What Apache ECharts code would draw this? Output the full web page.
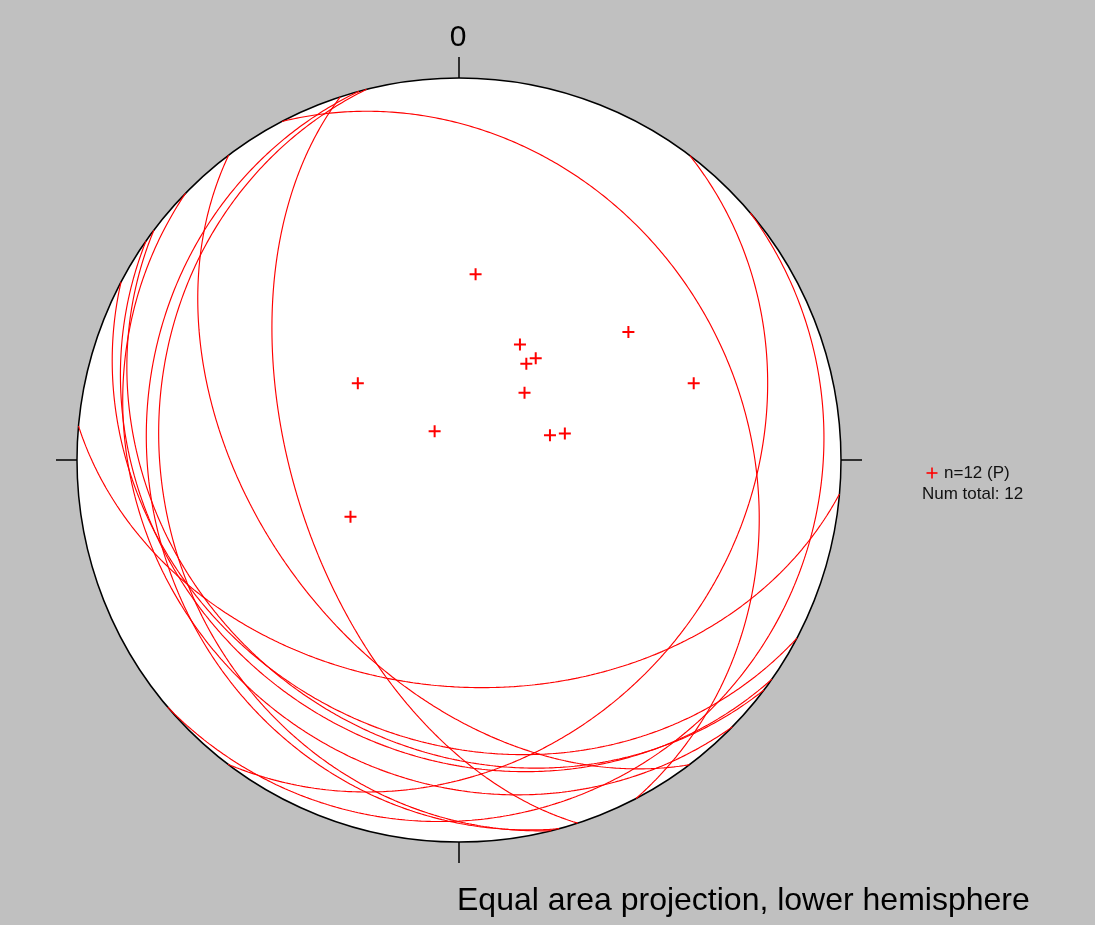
<!DOCTYPE html>
<html>
<head>
<meta charset="utf-8">
<script src="https://cdn.jsdelivr.net/npm/echarts@6/dist/echarts.min.js"></script>
<style>
html,body{margin:0;padding:0;background:#c0c0c0;}
#chart{width:1095px;height:925px;}
</style>
</head>
<body>
<div id="chart"></div>
<script>
// Poles to planes (trend, plunge in degrees)
const poleTrend  = [5.1, 27.8, 35.0, 37.0, 52.9, 307.2, 71.9, 44.3, 319.7, 74.8, 76.0, 242.4];
const polePlunge = [49.6, 62.0, 64.9, 62.7, 43.7, 62.8, 35.6, 70.0, 82.0, 69.9, 66.7, 63.8];
const northLabel = '0';
const legendLabel = 'n=12 (P)';
const totalLabel = 'Num total: 12';
const footerLabel = 'Equal area projection, lower hemisphere';

const D = Math.PI / 180;
// Equal-area (Schmidt) lower hemisphere projection of a unit vector (north, east, down)
function project(n, e, d) {
  const h = Math.sqrt(n * n + e * e);
  const r = Math.sqrt(Math.max(0, 1 - d));
  if (h < 1e-12) return [0, 0];
  return [r * e / h, r * n / h];
}
function projectLine(trend, plunge) {
  const n = Math.cos(plunge * D) * Math.cos(trend * D);
  const e = Math.cos(plunge * D) * Math.sin(trend * D);
  const d = Math.sin(plunge * D);
  return project(n, e, d);
}
function greatCircle(trend, plunge) {
  const dd = (trend + 180) * D;   // dip direction
  const dip = (90 - plunge) * D;  // dip angle
  const s = [Math.cos(dd - Math.PI / 2), Math.sin(dd - Math.PI / 2), 0];
  const dv = [Math.cos(dip) * Math.cos(dd), Math.cos(dip) * Math.sin(dd), Math.sin(dip)];
  const pts = [];
  for (let k = 0; k <= 360; k++) {
    const rk = k * 0.5 * D;
    const v = [0, 1, 2].map(i => Math.cos(rk) * s[i] + Math.sin(rk) * dv[i]);
    pts.push(project(v[0], v[1], v[2]));
  }
  return pts;
}

const poleData = poleTrend.map((t, i) => projectLine(t, polePlunge[i]));
const circleSeries = poleTrend.map((t, i) => ({
  type: 'line',
  data: greatCircle(t, polePlunge[i]),
  showSymbol: false,
  symbol: 'none',
  smooth: false,
  silent: true,
  z: 3,
  clip: false,
  lineStyle: { color: '#ff0000', width: 1.15 }
}));

const crossPath = 'path://M5,0h2v12h-2zM0,5h12v2h-12z';

const chart = echarts.init(document.getElementById('chart'));
chart.setOption({
  backgroundColor: '#c0c0c0',
  animation: false,
  grid: { left: 77, top: 78, width: 764, height: 764, containLabel: false },
  xAxis: { type: 'value', min: -1, max: 1, show: false },
  yAxis: { type: 'value', min: -1, max: 1, show: false },
  series: [
    {
      type: 'custom',
      data: [[0, 0]],
      z: 1,
      silent: true,
      clip: false,
      renderItem: function (params, api) {
        const c = api.coord([0, 0]);
        const R = api.size([1, 1])[0];
        const tick = 21;
        const black = { stroke: '#000', lineWidth: 1.5 };
        return {
          type: 'group',
          children: [
            { type: 'circle', shape: { cx: c[0], cy: c[1], r: R }, style: { fill: '#fff', stroke: '#000', lineWidth: 1.5 } },
            { type: 'line', shape: { x1: c[0], y1: c[1] - R, x2: c[0], y2: c[1] - R - tick }, style: black },
            { type: 'line', shape: { x1: c[0], y1: c[1] + R, x2: c[0], y2: c[1] + R + tick }, style: black },
            { type: 'line', shape: { x1: c[0] - R, y1: c[1], x2: c[0] - R - tick, y2: c[1] }, style: black },
            { type: 'line', shape: { x1: c[0] + R, y1: c[1], x2: c[0] + R + tick, y2: c[1] }, style: black },
            { type: 'text', x: c[0] - 1, y: c[1] - R - 40, style: { text: northLabel, fill: '#000', font: '30px "Liberation Sans", Arial, sans-serif', textAlign: 'center', textVerticalAlign: 'middle' } }
          ]
        };
      }
    },
    ...circleSeries,
    {
      type: 'scatter',
      data: poleData,
      symbol: crossPath,
      symbolSize: 12,
      z: 4,
      itemStyle: { color: '#ff0000', opacity: 1 },
      silent: true
    }
  ],
  graphic: [
    { type: 'rect', shape: { x: 931.2, y: 467.5, width: 1.6, height: 11 }, style: { fill: '#ff0000' } },
    { type: 'rect', shape: { x: 926.5, y: 472.2, width: 11, height: 1.6 }, style: { fill: '#ff0000' } },
    { type: 'text', x: 944, y: 473, style: { text: legendLabel, fill: '#111', font: '17px "Liberation Sans", Arial, sans-serif', textVerticalAlign: 'middle' } },
    { type: 'text', x: 922, y: 494, style: { text: totalLabel, fill: '#111', font: '17px "Liberation Sans", Arial, sans-serif', textVerticalAlign: 'middle' } },
    { type: 'text', x: 457, y: 901, style: { text: footerLabel, fill: '#000', font: '32px "Liberation Sans", Arial, sans-serif', textVerticalAlign: 'middle' } }
  ]
});
</script>
</body>
</html>
